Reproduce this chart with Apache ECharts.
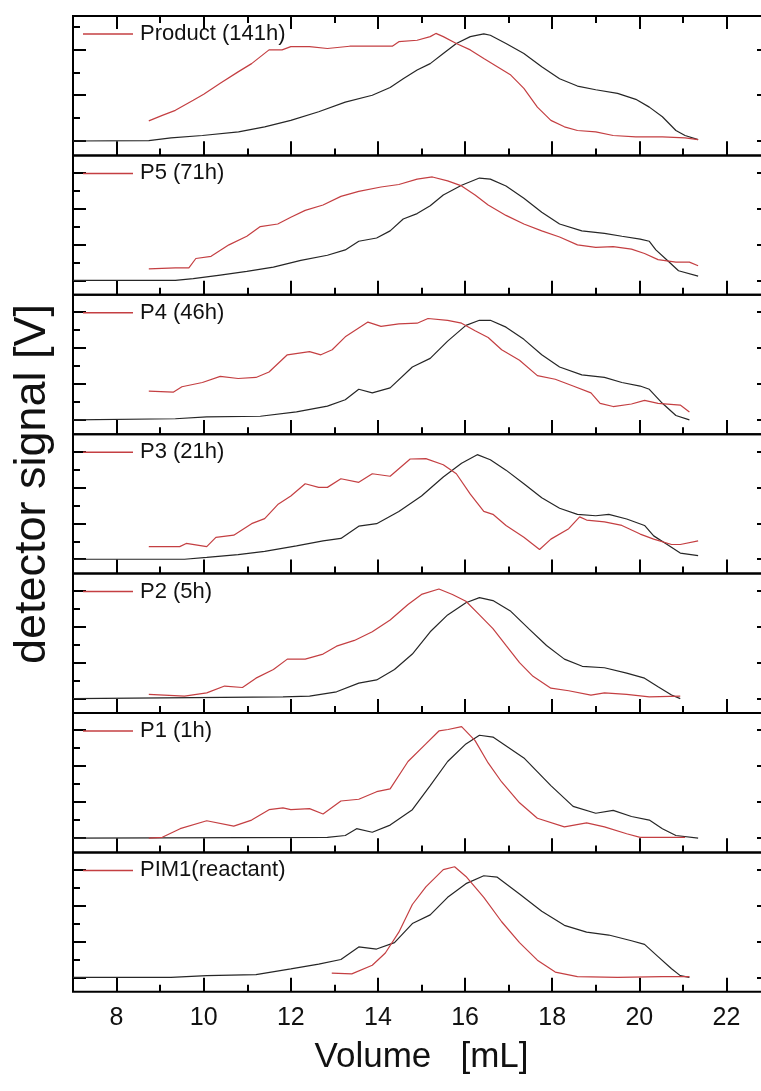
<!DOCTYPE html>
<html>
<head>
<meta charset="utf-8">
<script src="https://cdn.jsdelivr.net/npm/echarts@6/dist/echarts.min.js"></script>
<style>
html, body { margin: 0; background: #fff; }
#chart { width: 761px; height: 1091px; }
</style>
</head>
<body>
<div id="chart"></div>
<script>
// panel labels, top to bottom
const labels = ['Product (141h)', 'P5 (71h)', 'P4 (46h)', 'P3 (21h)', 'P2 (5h)', 'P1 (1h)', 'PIM1(reactant)'];
const xMajor = [8, 10, 12, 14, 16, 18, 20, 22];
const xMinor = [7, 9, 11, 13, 15, 17, 19, 21, 23];
const yMajorTop = [0, 1, 2];
const yMajor = [0, 1, 2, 3];
const yMinor = [0.5, 1.5, 2.5];

// traces: [volume mL, signal in panel tick units]
const productRed = [[8.74,0.44],[9.05,0.56],[9.35,0.67],[9.76,0.89],[10.0,1.02],[10.38,1.26],[10.79,1.51],[11.1,1.69],[11.5,1.99],[11.8,1.99],[12.0,2.06],[12.43,2.06],[12.84,2.02],[13.35,2.07],[13.87,2.07],[14.33,2.07],[14.48,2.17],[14.9,2.2],[15.2,2.28],[15.33,2.35],[15.5,2.28],[15.8,2.13],[16.12,1.99],[16.43,1.8],[16.74,1.62],[17.05,1.44],[17.35,1.15],[17.66,0.74],[17.97,0.45],[18.28,0.31],[18.58,0.23],[19.0,0.2],[19.4,0.12],[19.92,0.09],[20.53,0.09],[21.05,0.07],[21.35,0.03]];
const productBlack = [[7.0,0],[8.74,0.01],[9.25,0.07],[9.97,0.12],[10.8,0.2],[11.4,0.31],[12.0,0.45],[12.64,0.64],[13.25,0.85],[13.87,1.0],[14.28,1.17],[14.58,1.36],[14.9,1.55],[15.2,1.69],[15.5,1.91],[15.8,2.13],[16.12,2.28],[16.43,2.34],[16.58,2.31],[16.94,2.13],[17.35,1.91],[17.76,1.62],[18.17,1.36],[18.58,1.2],[19.0,1.12],[19.5,1.04],[19.92,0.91],[20.23,0.74],[20.53,0.53],[20.84,0.23],[21.05,0.12],[21.35,0.03]];

const p5Red = [[8.74,0.32],[9.35,0.35],[9.66,0.35],[9.82,0.61],[10.17,0.67],[10.58,0.99],[10.99,1.23],[11.3,1.5],[11.7,1.57],[12.0,1.76],[12.33,1.95],[12.74,2.1],[13.15,2.34],[13.56,2.48],[14.07,2.6],[14.48,2.67],[14.9,2.82],[15.25,2.88],[15.6,2.77],[15.92,2.63],[16.23,2.38],[16.53,2.1],[16.94,1.81],[17.35,1.57],[17.76,1.38],[18.17,1.21],[18.58,0.99],[19.0,0.92],[19.4,0.94],[19.82,0.87],[20.12,0.75],[20.43,0.58],[20.84,0.51],[21.15,0.51],[21.35,0.41]];
const p5Black = [[7.0,0],[9.35,0],[9.76,0.05],[10.38,0.15],[10.99,0.25],[11.6,0.37],[12.23,0.56],[12.84,0.7],[13.25,0.85],[13.56,1.09],[13.97,1.18],[14.28,1.38],[14.58,1.71],[14.9,1.86],[15.2,2.08],[15.5,2.38],[15.92,2.65],[16.33,2.85],[16.58,2.82],[16.94,2.63],[17.35,2.29],[17.76,1.9],[18.17,1.57],[18.68,1.38],[19.2,1.31],[19.6,1.23],[20.02,1.15],[20.23,1.09],[20.38,0.85],[20.64,0.56],[20.9,0.27],[21.35,0.12]];

const p4Red = [[8.74,0.8],[9.3,0.77],[9.5,0.92],[9.97,1.04],[10.38,1.21],[10.79,1.15],[11.2,1.18],[11.5,1.33],[11.92,1.81],[12.43,1.9],[12.69,1.81],[12.95,1.95],[13.25,2.31],[13.77,2.72],[14.07,2.6],[14.48,2.67],[14.9,2.69],[15.15,2.82],[15.6,2.77],[15.92,2.69],[16.23,2.48],[16.53,2.29],[16.84,1.95],[17.25,1.66],[17.66,1.23],[18.07,1.13],[18.48,0.94],[18.89,0.75],[19.1,0.46],[19.4,0.37],[19.82,0.44],[20.12,0.54],[20.43,0.46],[20.94,0.41],[21.15,0.22]];
const p4Black = [[7.0,0],[9.35,0.03],[10.07,0.08],[11.3,0.1],[12.13,0.22],[12.84,0.38],[13.25,0.56],[13.56,0.85],[13.87,0.75],[14.28,0.89],[14.79,1.47],[15.2,1.71],[15.6,2.19],[16.02,2.63],[16.33,2.77],[16.58,2.77],[16.94,2.58],[17.35,2.24],[17.76,1.81],[18.17,1.47],[18.68,1.25],[19.2,1.18],[19.6,1.04],[20.02,0.94],[20.23,0.85],[20.53,0.46],[20.84,0.12],[21.15,0]];

const p3Red = [[8.74,0.35],[9.45,0.35],[9.6,0.44],[10.07,0.35],[10.28,0.61],[10.69,0.67],[11.1,0.99],[11.4,1.13],[11.7,1.52],[12.0,1.76],[12.33,2.1],[12.64,2.0],[12.84,2.0],[13.15,2.24],[13.56,2.14],[13.87,2.38],[14.28,2.31],[14.74,2.79],[15.1,2.8],[15.5,2.63],[15.8,2.38],[16.12,1.81],[16.43,1.33],[16.64,1.25],[16.94,0.94],[17.35,0.61],[17.71,0.27],[17.97,0.56],[18.38,0.85],[18.63,1.18],[18.79,1.09],[19.2,1.04],[19.6,0.94],[20.02,0.7],[20.33,0.56],[20.74,0.41],[20.94,0.41],[21.35,0.51]];
const p3Black = [[7.0,0],[9.56,0],[10.07,0.05],[10.79,0.13],[11.4,0.22],[12.13,0.37],[12.74,0.51],[13.15,0.58],[13.56,0.92],[13.97,0.99],[14.48,1.33],[15.0,1.76],[15.5,2.29],[15.92,2.67],[16.28,2.91],[16.58,2.77],[16.94,2.48],[17.35,2.1],[17.76,1.71],[18.17,1.42],[18.58,1.25],[19.0,1.21],[19.3,1.25],[19.71,1.12],[20.12,0.94],[20.33,0.65],[20.64,0.41],[20.94,0.17],[21.35,0.1]];

const p2Red = [[8.74,0.12],[9.56,0.07],[10.07,0.16],[10.48,0.35],[10.89,0.31],[11.2,0.57],[11.6,0.81],[11.92,1.1],[12.33,1.1],[12.74,1.24],[13.05,1.46],[13.46,1.62],[13.87,1.86],[14.28,2.19],[14.69,2.62],[15.0,2.9],[15.4,3.05],[15.71,2.9],[16.02,2.71],[16.33,2.33],[16.64,1.95],[16.94,1.48],[17.25,1.0],[17.56,0.62],[17.97,0.29],[18.38,0.22],[18.89,0.1],[19.2,0.16],[19.71,0.12],[20.23,0.05],[20.94,0.07]];
const p2Black = [[7.0,0],[11.82,0.05],[12.43,0.07],[13.05,0.19],[13.56,0.43],[13.97,0.52],[14.38,0.81],[14.79,1.24],[15.2,1.86],[15.6,2.33],[16.02,2.67],[16.33,2.81],[16.64,2.73],[17.05,2.43],[17.46,1.95],[17.87,1.48],[18.28,1.1],[18.69,0.9],[19.2,0.86],[19.71,0.71],[20.12,0.57],[20.43,0.33],[20.74,0.1],[20.94,0]];

const p1Red = [[8.74,0],[9.05,0.02],[9.46,0.26],[10.07,0.48],[10.69,0.33],[11.1,0.5],[11.5,0.79],[11.82,0.84],[12.0,0.79],[12.43,0.82],[12.74,0.67],[13.15,1.03],[13.56,1.08],[13.97,1.29],[14.28,1.37],[14.69,2.13],[15.1,2.62],[15.4,2.98],[15.61,3.02],[15.92,3.1],[16.23,2.71],[16.53,2.09],[16.84,1.56],[17.25,0.98],[17.66,0.55],[18.28,0.31],[18.79,0.42],[19.2,0.31],[19.71,0.12],[20.02,0.02],[21.05,0.02]];
const p1Black = [[7.0,0],[12.84,0.02],[13.25,0.07],[13.51,0.26],[13.87,0.16],[14.28,0.36],[14.79,0.79],[15.2,1.46],[15.6,2.13],[16.02,2.62],[16.33,2.86],[16.64,2.81],[17.35,2.23],[17.97,1.46],[18.48,0.88],[19.0,0.69],[19.4,0.77],[19.82,0.6],[20.23,0.5],[20.53,0.26],[20.84,0.07],[21.35,0]];

const pim1Red = [[12.94,0.12],[13.4,0.1],[13.87,0.34],[14.17,0.68],[14.48,1.26],[14.79,2.03],[15.1,2.52],[15.5,3.0],[15.76,3.08],[16.02,2.81],[16.43,2.23],[16.84,1.55],[17.25,0.97],[17.66,0.48],[18.07,0.15],[18.58,0.02],[19.5,0],[20.53,0.02],[21.15,0.02]];
const pim1Black = [[7.0,0],[9.25,0],[10.07,0.05],[11.2,0.08],[12.0,0.24],[12.64,0.37],[13.15,0.5],[13.56,0.85],[13.97,0.79],[14.38,0.97],[14.79,1.5],[15.2,1.74],[15.6,2.23],[16.02,2.61],[16.43,2.83],[16.74,2.79],[17.25,2.32],[17.76,1.84],[18.28,1.45],[18.79,1.26],[19.3,1.18],[19.82,1.02],[20.12,0.92],[20.43,0.58],[20.74,0.24],[20.94,0.05],[21.15,0]];

const redTraces = [productRed, p5Red, p4Red, p3Red, p2Red, p1Red, pim1Red];
const blackTraces = [productBlack, p5Black, p4Black, p3Black, p2Black, p1Black, pim1Black];

const chart = echarts.init(document.getElementById('chart'));

const font = '"Liberation Sans", Arial, sans-serif';
const TOP = 16, H = 139.4, LEFT = 73, W = 697;
const RED = '#c43f42', BLACK = '#262626';
const MAJOR_LEN = 13, MINOR_LEN = 7;

const grid = [], xAxis = [], yAxis = [], series = [], legend = [];

// axis that only draws inward ticks at the given values (none when vals is null)
function tickAxis(extra, vals, len, pos, onZero) {
  return Object.assign({
    type: 'value', position: pos,
    axisLine: { show: false, onZero: !!onZero },
    axisTick: vals ? { show: true, inside: true, length: len, customValues: vals, lineStyle: { color: '#000', width: 2 } } : { show: false },
    axisLabel: { show: false },
    splitLine: { show: false }
  }, extra);
}

// each grid holds one x and one y axis; returns [xIndex, yIndex]
function addGrid(box, border, xOpt, yOpt) {
  grid.push(Object.assign({ left: LEFT, width: W, show: border, borderColor: '#000', borderWidth: 2,
    backgroundColor: 'transparent', outerBoundsMode: 'none' }, box));
  const g = grid.length - 1;
  xAxis.push(Object.assign({ gridIndex: g, min: 7, max: 23 }, xOpt));
  yAxis.push(Object.assign({ gridIndex: g }, yOpt));
  return [xAxis.length - 1, yAxis.length - 1];
}

// x ticks along a frame edge, as short segments placed in the panel's own data space
function edgeTicks(vals, yEdge, dy) {
  return vals.map(v => [{ coord: [v, yEdge] }, { coord: [v, yEdge + dy] }]);
}

labels.forEach((name, p) => {
  const top = TOP + p * H;
  const box = { top: top, height: H };
  const yMin = p === 0 ? -0.314 : -0.40;
  const yMax = p === 0 ? 2.73 : 3.48;
  const perPx = (yMax - yMin) / H;
  const majors = p === 0 ? yMajorTop : yMajor;
  const last = p === labels.length - 1;

  // main grid: frame, left major ticks and the two traces
  const [xi, yi] = addGrid(box, true,
    tickAxis({}, null, 0, 'bottom'),
    tickAxis({ min: yMin, max: yMax }, majors, MAJOR_LEN, 'left'));
  // left minor ticks
  addGrid(box, false, tickAxis({}, null, 0, 'bottom'), tickAxis({ min: yMin, max: yMax }, yMinor, MINOR_LEN, 'left'));
  // right major ticks
  addGrid(box, false, tickAxis({}, null, 0, 'bottom'), tickAxis({ min: yMin, max: yMax }, majors, MAJOR_LEN, 'right'));
  // bottom axis: labels and title on the last panel
  addGrid(box, false,
    tickAxis({
      axisLabel: last ? { show: true, customValues: xMajor, fontSize: 25, color: '#111', fontFamily: font, margin: 14 } : { show: false },
      name: last ? 'Volume   [mL]' : '', nameLocation: 'middle', nameGap: 48,
      nameTextStyle: { fontSize: 35, color: '#111', fontFamily: font, verticalAlign: 'top' }
    }, xMajor, MAJOR_LEN, 'bottom', true),
    tickAxis({ min: -0.008, max: 1 }, null, 0, 'left'));

  // x tick marks on the lower frame edge, plus the top edge of the first panel
  let ticks = edgeTicks(xMajor, yMin, MAJOR_LEN * perPx).concat(edgeTicks(xMinor, yMin, MINOR_LEN * perPx));
  if (p === 0) {
    ticks = ticks.concat(edgeTicks(xMajor, yMax, -MAJOR_LEN * perPx), edgeTicks(xMinor, yMax, -MINOR_LEN * perPx));
  }

  series.push({
    name: name + ' ref', type: 'line', xAxisIndex: xi, yAxisIndex: yi,
    data: blackTraces[p], showSymbol: false, symbol: 'none', silent: true,
    lineStyle: { color: BLACK, width: 1.2 },
    markLine: {
      silent: true, animation: false, symbol: ['none', 'none'],
      label: { show: false }, emphasis: { disabled: true },
      lineStyle: { color: '#000', width: 2, type: 'solid' },
      data: ticks
    }
  });
  series.push({
    name: name, type: 'line', xAxisIndex: xi, yAxisIndex: yi,
    data: redTraces[p], showSymbol: false, symbol: 'none', silent: true,
    lineStyle: { color: RED, width: 1.2 }, itemStyle: { color: RED }
  });

  legend.push({
    data: [name], left: 83, top: top + 6, padding: 0,
    icon: 'rect', itemWidth: 50, itemHeight: 1.5, itemGap: 0, selectedMode: false,
    itemStyle: { color: RED },
    textStyle: { fontSize: 22, color: '#111', fontFamily: font, padding: [0, 0, 0, 2], lineHeight: 24 }
  });
});

chart.setOption({
  backgroundColor: '#fff',
  animation: false,
  grid: grid,
  xAxis: xAxis,
  yAxis: yAxis,
  legend: legend,
  series: series,
  graphic: [{
    type: 'text', x: 33, y: 484, rotation: Math.PI / 2,
    style: { text: 'detector signal [V]', fontSize: 45, fontFamily: font, fill: '#111', align: 'center', verticalAlign: 'middle' }
  }]
});
</script>
</body>
</html>
